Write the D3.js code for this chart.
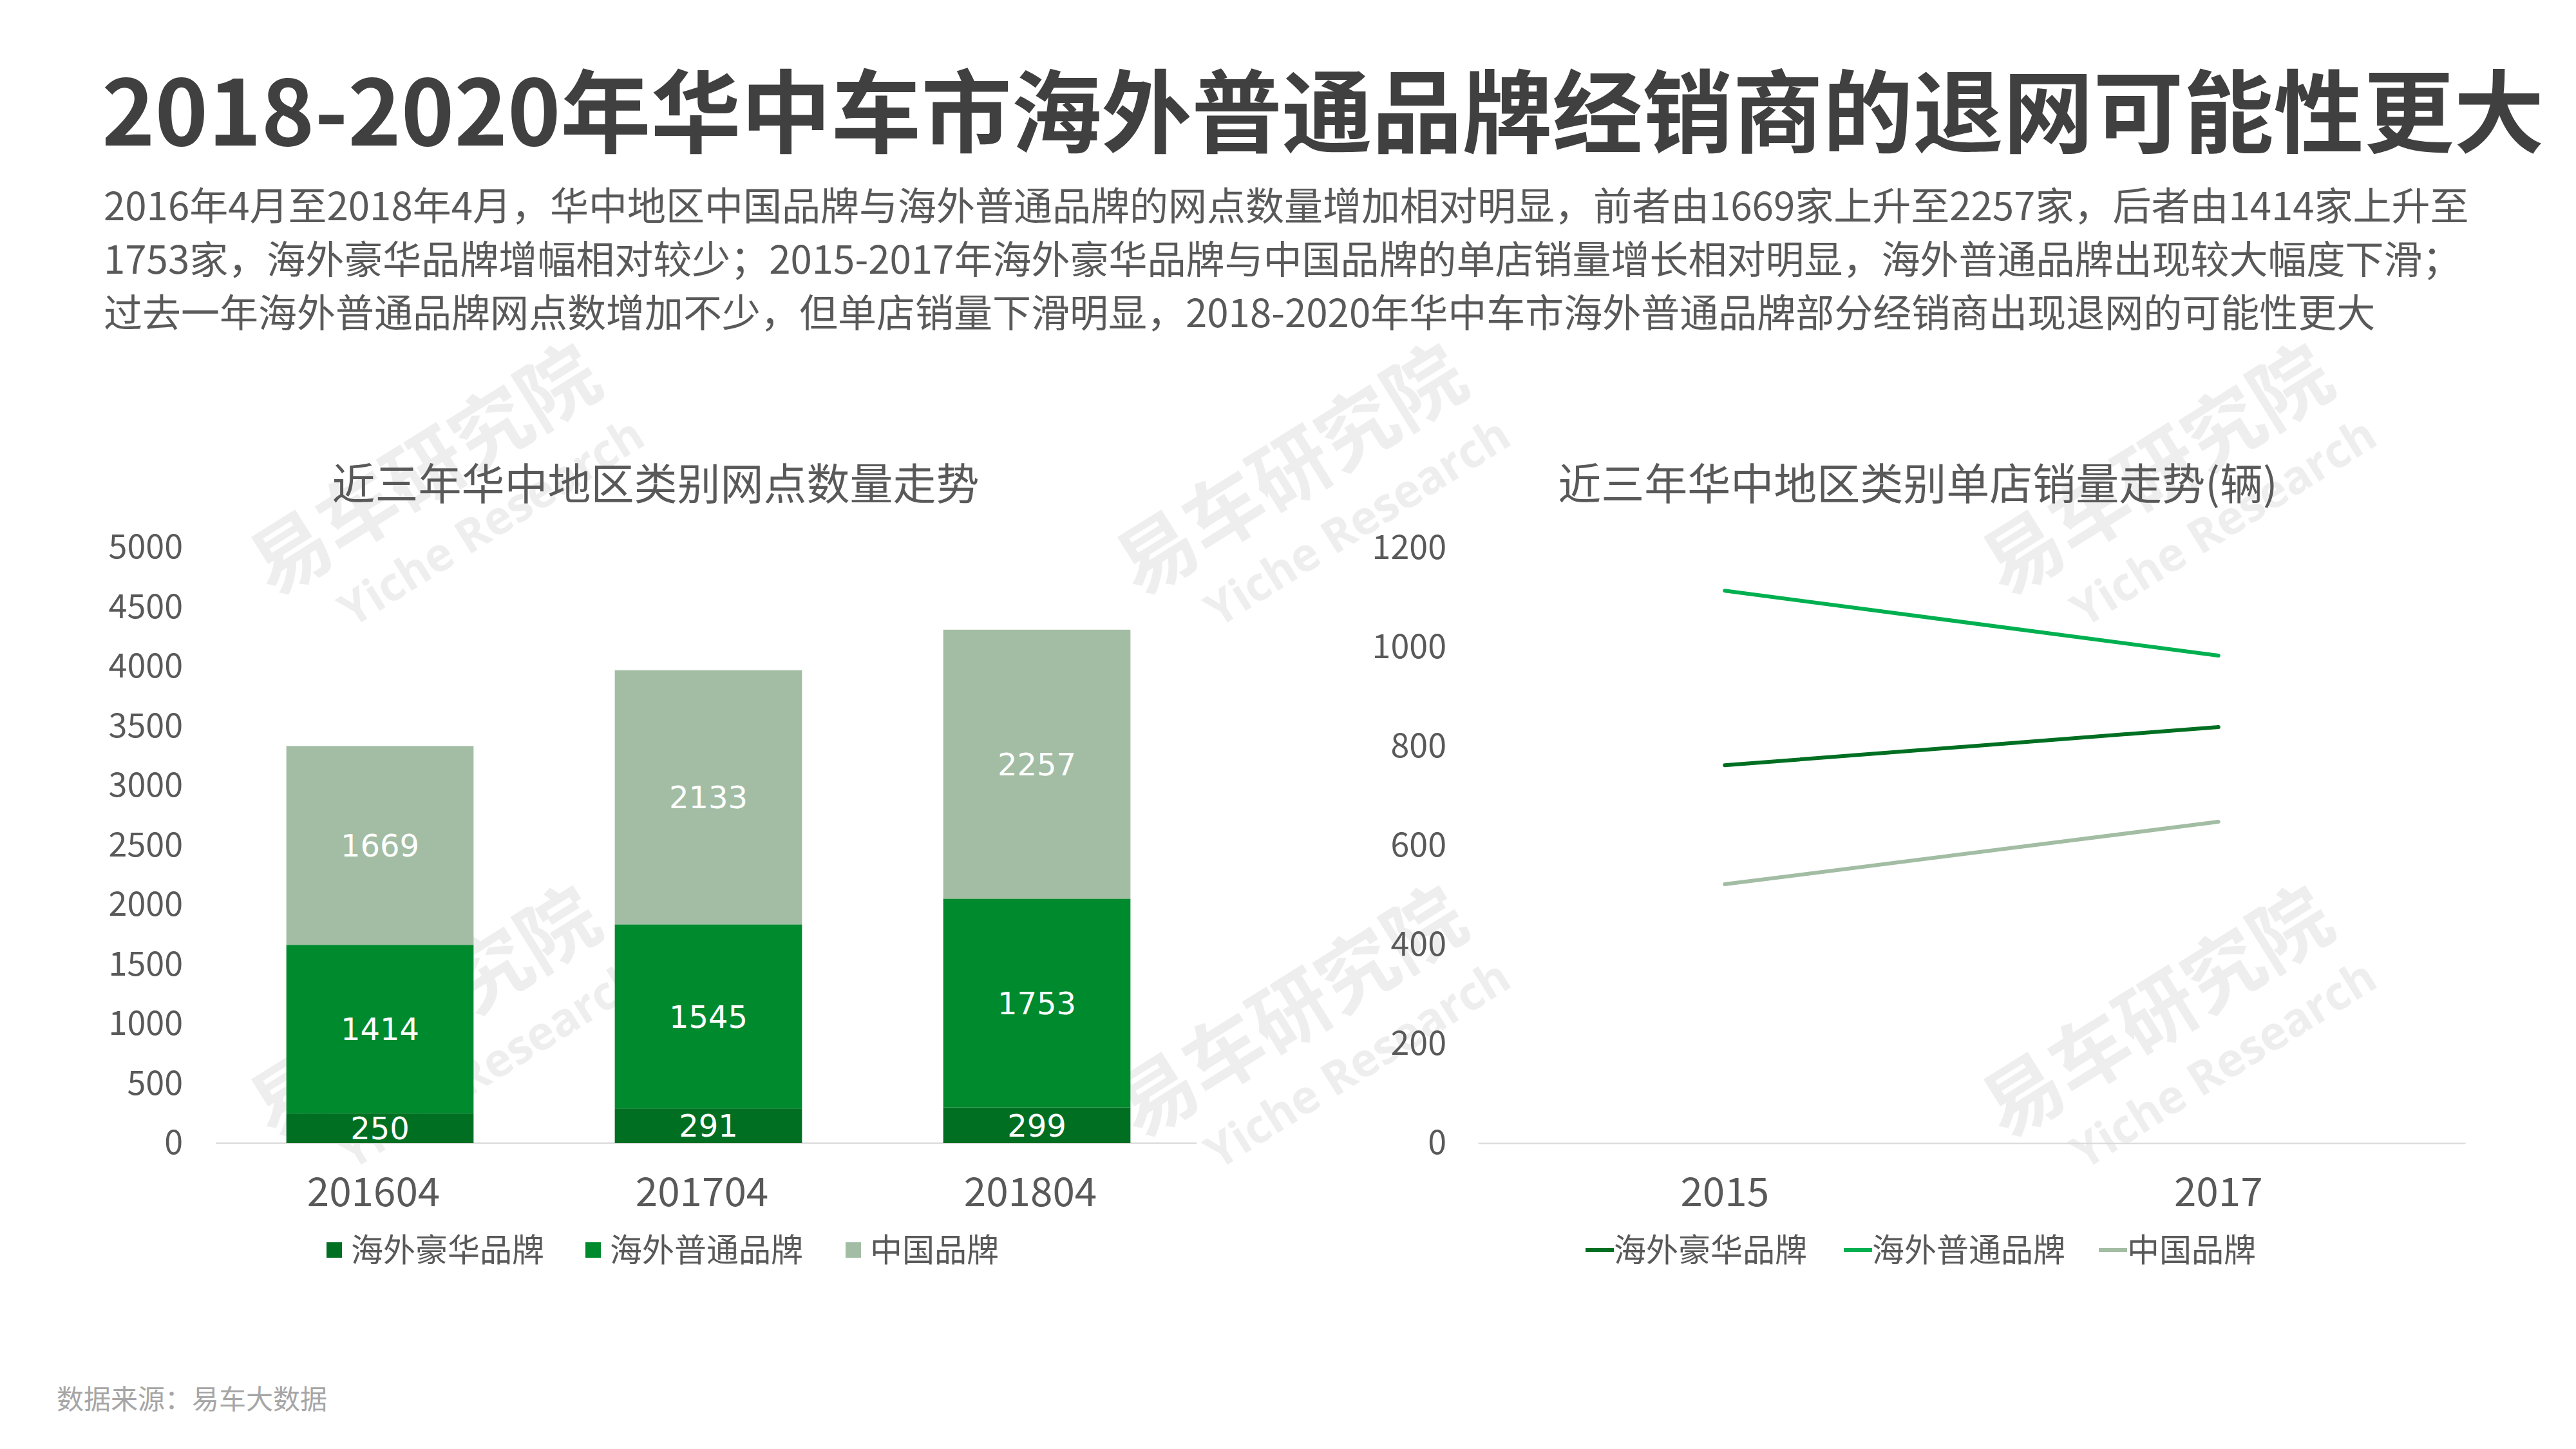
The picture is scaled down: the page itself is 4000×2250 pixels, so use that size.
<!DOCTYPE html>
<html>
<head>
<meta charset="utf-8">
<script src="https://cdn.jsdelivr.net/npm/d3@7"></script>
<style>
  html, body { margin: 0; padding: 0; background: #ffffff; }
  svg { display: block; }
</style>
</head>
<body>
<script>
// ---------- DATA ----------
const titleText = "2018-2020年华中车市海外普通品牌经销商的退网可能性更大";
const subtitleLines = [
  "2016年4月至2018年4月，华中地区中国品牌与海外普通品牌的网点数量增加相对明显，前者由1669家上升至2257家，后者由1414家上升至",
  "1753家，海外豪华品牌增幅相对较少；2015-2017年海外豪华品牌与中国品牌的单店销量增长相对明显，海外普通品牌出现较大幅度下滑；",
  "过去一年海外普通品牌网点数增加不少，但单店销量下滑明显，2018-2020年华中车市海外普通品牌部分经销商出现退网的可能性更大"
];
const sourceText = "数据来源：易车大数据";

const seriesNames = ["海外豪华品牌", "海外普通品牌", "中国品牌"];

// Left chart: dealer counts (stacked)
const barTitle = "近三年华中地区类别网点数量走势";
const barCategories = ["201604", "201704", "201804"];
const luxuryDealers = [250, 291, 299];
const ordinaryDealers = [1414, 1545, 1753];
const chineseDealers = [1669, 2133, 2257];
const barTicks = [0, 500, 1000, 1500, 2000, 2500, 3000, 3500, 4000, 4500, 5000];

// Right chart: sales per dealer
const lineTitle = "近三年华中地区类别单店销量走势(辆)";
const lineCategories = ["2015", "2017"];
const luxurySales = [762, 839];
const ordinarySales = [1114, 983];
const chineseSales = [522, 648];
const lineTicks = [0, 200, 400, 600, 800, 1000, 1200];

const watermarkCN = "易车研究院";
const watermarkEN = "Yiche Research";

// ---------- STYLE ----------
const W = 4000, H = 2250;
const barColors = ["#006F22", "#008A2E", "#A2BDA3"];
const lineColors = ["#006F22", "#00B050", "#A2BDA3"];
const CJK = "'Noto Sans CJK SC', 'Noto Sans', sans-serif";
const textGray = "#595959";

const svg = d3.select("body").append("svg")
  .attr("width", W).attr("height", H)
  .attr("viewBox", `0 0 ${W} ${H}`);

svg.append("rect").attr("width", W).attr("height", H).attr("fill", "#ffffff");

// ---------- WATERMARKS ----------
const wmX = [660, 2005, 3350], wmY = [731, 1573];
const wm = svg.append("g").attr("class", "watermarks");
wmY.forEach(y => wmX.forEach(x => {
  const g = wm.append("g").attr("transform", `translate(${x},${y}) rotate(-32)`);
  g.append("text").text(watermarkCN)
    .attr("text-anchor", "middle").attr("dy", "0.35em")
    .attr("font-family", CJK).attr("font-weight", 700).attr("font-size", 122)
    .attr("fill", "#EEEEEE");
  g.append("text").text(watermarkEN)
    .attr("x", 45).attr("y", 122)
    .attr("text-anchor", "middle").attr("dy", "0.35em")
    .attr("font-family", "'Open Sans', 'DejaVu Sans', sans-serif").attr("font-weight", 700).attr("font-size", 72)
    .attr("fill", "#EEEEEE");
}));

// ---------- TITLE / SUBTITLE ----------
svg.append("text").text(titleText)
  .attr("x", 158).attr("y", 226)
  .attr("font-family", CJK).attr("font-weight", 700).attr("font-size", 140)
  .attr("fill", "#404040");

svg.append("g").selectAll("text").data(subtitleLines).join("text")
  .text(d => d)
  .attr("x", 161).attr("y", (d, i) => 321 + i * 83).attr("dy", "0.35em")
  .attr("font-family", CJK).attr("font-size", 60).attr("fill", textGray);

svg.append("text").text(sourceText)
  .attr("x", 88).attr("y", 2173).attr("dy", "0.35em")
  .attr("font-family", CJK).attr("font-size", 42).attr("fill", "#A6A6A6");

// ---------- LEFT: STACKED BAR ----------
const baseY = 1775, topY = 850;
{
  const x = d3.scaleBand().domain(barCategories).range([335, 1865]).paddingInner(0.43).paddingOuter(0.215);
  const y = d3.scaleLinear().domain([0, 5000]).range([baseY, topY]);

  const rows = barCategories.map((c, i) => ({
    cat: c, "海外豪华品牌": luxuryDealers[i], "海外普通品牌": ordinaryDealers[i], "中国品牌": chineseDealers[i]
  }));
  const stack = d3.stack().keys(seriesNames)(rows);

  const g = svg.append("g");
  // y axis
  const ya = g.append("g").attr("transform", `translate(335,0)`)
    .call(d3.axisLeft(y).tickValues(barTicks).tickSize(0).tickPadding(51).tickFormat(d3.format("d")));
  ya.select(".domain").remove();
  ya.selectAll("text").attr("font-family", CJK).attr("font-size", 52).attr("fill", textGray);

  // x axis
  const xa = g.append("g").attr("transform", `translate(0,${baseY})`)
    .call(d3.axisBottom(x).tickSize(0).tickSizeOuter(0));
  xa.select(".domain").attr("stroke", "#D9D9D9").attr("stroke-width", 2)
    .attr("d", `M335,0H1858`);
  xa.selectAll("text").attr("x", -10).attr("y", 76).attr("dy", "0.35em")
    .attr("font-family", CJK).attr("font-size", 62).attr("fill", textGray);

  // bars
  stack.forEach((s, si) => {
    g.append("g").selectAll("rect").data(s).join("rect")
      .attr("x", d => x(d.data.cat))
      .attr("y", d => y(d[1]))
      .attr("width", x.bandwidth())
      .attr("height", d => y(d[0]) - y(d[1]))
      .attr("fill", barColors[si]);
    g.append("g").selectAll("text").data(s).join("text")
      .text(d => d[1] - d[0])
      .attr("x", d => x(d.data.cat) + x.bandwidth() / 2)
      .attr("y", d => (y(d[0]) + y(d[1])) / 2)
      .attr("dy", "0.36em")
      .attr("text-anchor", "middle")
      .attr("font-family", "'DejaVu Sans', Verdana, sans-serif").attr("font-size", 48)
      .attr("fill", "#ffffff");
  });

  // title
  g.append("text").text(barTitle)
    .attr("x", 1018).attr("y", 753).attr("dy", "0.35em").attr("text-anchor", "middle")
    .attr("font-family", CJK).attr("font-size", 67).attr("fill", textGray);

  // legend
  const legX = [507, 909, 1313];
  seriesNames.forEach((n, i) => {
    g.append("rect").attr("x", legX[i]).attr("y", 1929).attr("width", 24).attr("height", 24).attr("fill", barColors[i]);
    g.append("text").text(n).attr("x", legX[i] + 38).attr("y", 1941).attr("dy", "0.35em")
      .attr("font-family", CJK).attr("font-size", 50).attr("fill", textGray);
  });
}

// ---------- RIGHT: LINE ----------
{
  const x = d3.scaleBand().domain(lineCategories).range([2295, 3828]);
  const y = d3.scaleLinear().domain([0, 1200]).range([baseY, 851]);
  const g = svg.append("g");

  const ya = g.append("g").attr("transform", `translate(2295,0)`)
    .call(d3.axisLeft(y).tickValues(lineTicks).tickSize(0).tickPadding(49).tickFormat(d3.format("d")));
  ya.select(".domain").remove();
  ya.selectAll("text").attr("font-family", CJK).attr("font-size", 52).attr("fill", textGray);

  const xa = g.append("g").attr("transform", `translate(0,${baseY})`)
    .call(d3.axisBottom(x).tickSize(0).tickSizeOuter(0));
  xa.select(".domain").attr("stroke", "#D9D9D9").attr("stroke-width", 2);
  xa.selectAll("text").attr("y", 76).attr("dy", "0.35em")
    .attr("font-family", CJK).attr("font-size", 62).attr("fill", textGray);

  const seriesVals = [luxurySales, ordinarySales, chineseSales];
  const line = d3.line().x((d, i) => x(lineCategories[i]) + x.bandwidth() / 2).y(d => y(d));
  seriesVals.forEach((vals, si) => {
    g.append("path").datum(vals).attr("d", line)
      .attr("fill", "none").attr("stroke", lineColors[si]).attr("stroke-width", 6)
      .attr("stroke-linecap", "round");
  });

  g.append("text").text(lineTitle)
    .attr("x", 2978).attr("y", 753).attr("dy", "0.35em").attr("text-anchor", "middle")
    .attr("font-family", CJK).attr("font-size", 67).attr("fill", textGray);

  const legX = [2462, 2863, 3259];
  seriesNames.forEach((n, i) => {
    g.append("line").attr("x1", legX[i]).attr("x2", legX[i] + 44).attr("y1", 1941).attr("y2", 1941)
      .attr("stroke", lineColors[i]).attr("stroke-width", 6);
    g.append("text").text(n).attr("x", legX[i] + 44).attr("y", 1941).attr("dy", "0.35em")
      .attr("font-family", CJK).attr("font-size", 50).attr("fill", textGray);
  });
}
</script>
</body>
</html>
